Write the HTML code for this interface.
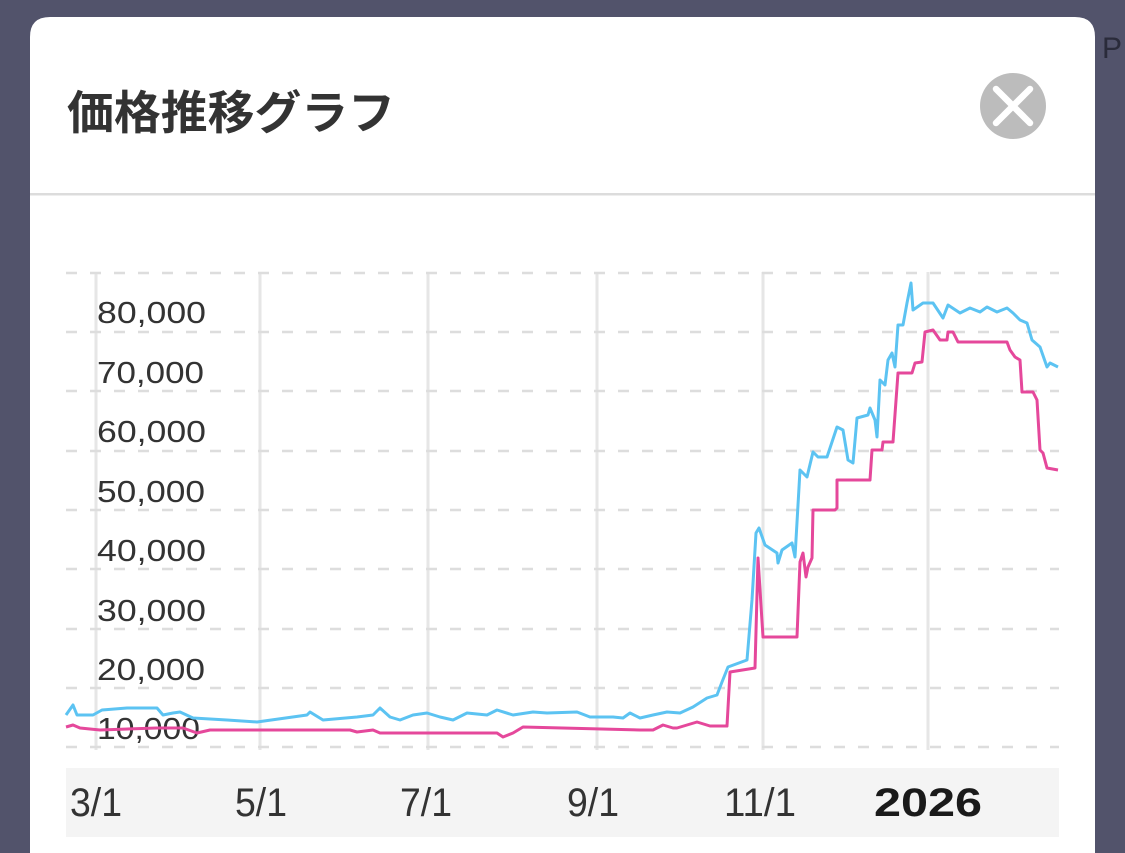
<!DOCTYPE html>
<html><head><meta charset="utf-8"><style>
html,body{margin:0;padding:0;width:1125px;height:853px;overflow:hidden;background:#52536b;}
svg{display:block}
</style></head><body>
<svg width="1125" height="853" viewBox="0 0 1125 853" xmlns="http://www.w3.org/2000/svg">
<rect x="0" y="0" width="1125" height="853" fill="#52536b"/>
<text x="1102" y="58" font-family="Liberation Sans, sans-serif" font-size="30" fill="#2a2b3a">P</text>
<path d="M30,853 L30,37 Q30,17 50,17 L1075,17 Q1095,17 1095,37 L1095,853 Z" fill="#ffffff"/>
<text x="67" y="129" font-family="Liberation Sans, 'Noto Sans CJK JP', sans-serif" font-size="46" font-weight="bold" fill="#333333" textLength="328" lengthAdjust="spacingAndGlyphs">価格推移グラフ</text>
<circle cx="1013" cy="106" r="33" fill="#bcbcbc"/>
<line x1="996" y1="89" x2="1030" y2="123" stroke="#fff" stroke-width="6.5" stroke-linecap="round"/>
<line x1="1030" y1="89" x2="996" y2="123" stroke="#fff" stroke-width="6.5" stroke-linecap="round"/>
<rect x="30" y="193" width="1065" height="2.5" fill="#dcdcdc"/>
<!-- vertical grid -->
<g stroke="#e6e6e6" stroke-width="3">
<line x1="96" y1="272" x2="96" y2="750"/>
<line x1="260" y1="272" x2="260" y2="750"/>
<line x1="428" y1="272" x2="428" y2="750"/>
<line x1="597" y1="272" x2="597" y2="750"/>
<line x1="763" y1="272" x2="763" y2="750"/>
<line x1="928" y1="272" x2="928" y2="750"/>
</g>
<!-- horizontal dashed grid -->
<g stroke="#dddddd" stroke-width="2.5" stroke-dasharray="11 13">
<line x1="66" y1="273" x2="1059" y2="273"/>
<line x1="66" y1="332" x2="1059" y2="332"/>
<line x1="66" y1="391" x2="1059" y2="391"/>
<line x1="66" y1="451" x2="1059" y2="451"/>
<line x1="66" y1="510" x2="1059" y2="510"/>
<line x1="66" y1="569" x2="1059" y2="569"/>
<line x1="66" y1="629" x2="1059" y2="629"/>
<line x1="66" y1="688" x2="1059" y2="688"/>
<line x1="66" y1="747" x2="1059" y2="747"/>
</g>
<!-- y labels -->
<g font-family="Liberation Sans, sans-serif" font-size="31" fill="#333333">
<text x="97" y="323" textLength="109" lengthAdjust="spacingAndGlyphs">80,000</text>
<text x="97" y="383" textLength="107" lengthAdjust="spacingAndGlyphs">70,000</text>
<text x="97" y="442" textLength="109" lengthAdjust="spacingAndGlyphs">60,000</text>
<text x="97" y="502" textLength="108" lengthAdjust="spacingAndGlyphs">50,000</text>
<text x="97" y="561" textLength="109" lengthAdjust="spacingAndGlyphs">40,000</text>
<text x="97" y="621" textLength="109" lengthAdjust="spacingAndGlyphs">30,000</text>
<text x="97" y="680" textLength="108" lengthAdjust="spacingAndGlyphs">20,000</text>
<text x="97" y="739" textLength="103" lengthAdjust="spacingAndGlyphs">10,000</text>
</g>
<!-- pink series -->
<polyline fill="none" stroke="#e5489b" stroke-width="3" stroke-linejoin="round" points="66,727 73,725 80,728 100,730 157,728 183,728 197,733 210,730 350,730 357,732 373,730 380,733 440,733 497,733 503,737 513,733 523,727 640,730 653,730 663,725 673,728 677,728 697,722 710,726 727,726 730,672 755,668 758,558 763,637 797,637 800,562 803,553 806,577 808,567 812,558 813,510 835,510 837,508 837,480 870,480 872,450 882,450 883,442 893,442 898,373 912,373 915,363 922,362 925,332 933,330 940,340 947,340 948,332 953,332 958,342 1007,342 1010,350 1015,357 1020,360 1022,392 1033,392 1037,400 1040,450 1043,453 1047,468 1058,470"/>
<!-- blue series -->
<polyline fill="none" stroke="#5cc3f2" stroke-width="3" stroke-linejoin="round" points="66,715 73,705 77,715 93,715 102,710 127,708 157,708 163,715 173,713 180,712 193,718 227,720 257,722 307,715 310,712 323,720 357,717 373,715 380,708 390,717 400,720 413,715 427,713 440,717 453,720 467,713 487,715 497,710 513,715 533,712 547,713 577,712 590,717 613,717 623,718 630,713 640,718 653,715 667,712 680,713 693,707 707,698 717,695 722,682 728,667 747,660 752,600 756,533 759,528 765,545 777,553 778,563 782,550 792,543 795,557 798,505 800,470 807,477 813,452 818,457 827,457 837,427 843,430 848,460 853,463 857,418 868,415 870,408 875,420 877,437 880,380 885,385 888,360 892,353 895,367 898,325 903,325 907,303 911,283 913,310 923,303 933,303 943,318 948,305 960,313 970,308 980,312 987,307 997,312 1007,308 1013,313 1020,320 1027,323 1032,340 1040,347 1047,367 1050,363 1058,367"/>
<!-- x axis band -->
<rect x="66" y="768" width="993" height="69" fill="#f4f4f4"/>
<g font-family="Liberation Sans, sans-serif" font-size="40" fill="#333333">
<text x="70" y="816" textLength="52" lengthAdjust="spacingAndGlyphs">3/1</text>
<text x="235" y="816" textLength="52" lengthAdjust="spacingAndGlyphs">5/1</text>
<text x="400" y="816" textLength="52" lengthAdjust="spacingAndGlyphs">7/1</text>
<text x="567" y="816" textLength="52" lengthAdjust="spacingAndGlyphs">9/1</text>
<text x="724" y="816" textLength="72" lengthAdjust="spacingAndGlyphs">11/1</text>
<text x="874" y="816" font-weight="bold" fill="#1a1a1a" textLength="108" lengthAdjust="spacingAndGlyphs">2026</text>
</g>
</svg>
</body></html>
